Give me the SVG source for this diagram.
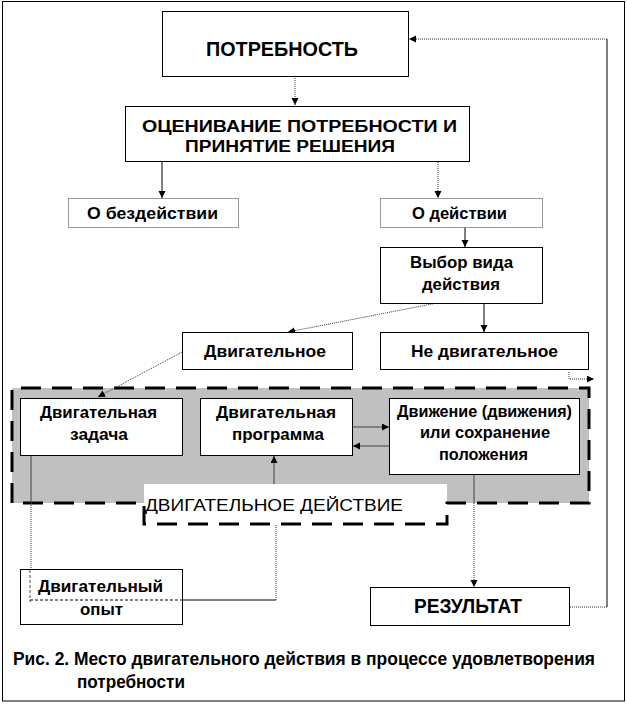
<svg xmlns="http://www.w3.org/2000/svg" width="627" height="704" viewBox="0 0 627 704">
<style>
  .box { fill: #ffffff; stroke: #000000; stroke-width: 1; }
  .dbox { fill: #ffffff; stroke: #333333; stroke-width: 1; stroke-dasharray: 1 1; }
  .t { font-family: "Liberation Sans", Arial, sans-serif; font-weight: bold; font-size: 16px; fill: #000000; }
  .m { font-size: 17px; }
  .big { font-size: 19.5px; }
  .reg { font-weight: normal; }
  .cap { font-size: 18px; }
  .solid { fill: none; stroke: #000000; stroke-width: 1; }
  .gray { fill: none; stroke: #404040; stroke-width: 1; }
  .dot { fill: none; stroke: #333333; stroke-width: 1; stroke-dasharray: 1 1; }
  .dash { fill: none; stroke: #000000; stroke-width: 1; stroke-dasharray: 3 2; }
  .gdash { fill: none; stroke: #888888; stroke-width: 1.5; stroke-dasharray: 3 2; }
  .frame { fill: none; stroke: #000000; stroke-width: 3; stroke-dasharray: 20 11; }
</style>
<defs>
  <marker id="ah" markerUnits="userSpaceOnUse" markerWidth="8" markerHeight="8" refX="7" refY="3.5" orient="auto">
    <path d="M0,0 L7,3.5 L0,7 z" fill="#000000"/>
  </marker>
</defs>
<rect x="0" y="0" width="627" height="704" fill="#ffffff"/>
<rect x="2.5" y="1.5" width="622" height="699.5" fill="none" stroke="#000000" stroke-width="1"/>

<g id="group-motor-action">
  <rect x="12" y="388" width="577" height="115" fill="#c0c0c0"/>
  <rect x="144" y="484" width="303" height="40" fill="#ffffff"/>
  <path class="frame" d="M12,503 L12,388 L589,388 L589,503 L447,503 L447,524 L144,524 L144,503 L12,503"/>
  <text class="t reg" x="145" y="511" font-size="21" textLength="258" lengthAdjust="spacingAndGlyphs">ДВИГАТЕЛЬНОЕ ДЕЙСТВИЕ</text>
</g>

<g id="connectors">
  <path class="dot" d="M295,76 L295,105" marker-end="url(#ah)"/>
  <path class="solid" d="M162,162 L162,198" marker-end="url(#ah)"/>
  <path class="dot" d="M438,162 L438,198" marker-end="url(#ah)"/>
  <path class="solid" d="M465,227 L465,247" marker-end="url(#ah)"/>
  <path class="solid" d="M484,303 L484,332" marker-end="url(#ah)"/>
  <path class="dot" d="M437,303 L288,332" marker-end="url(#ah)"/>
  <path class="dot" d="M182,352 L98,397" marker-end="url(#ah)"/>
  <path class="dot" d="M569,372 L569,379 L594,379" marker-end="url(#ah)"/>
  <path class="gray" d="M352,427 L389,427" marker-end="url(#ah)"/>
  <path class="gray" d="M389,446 L353,446" marker-end="url(#ah)"/>
  <path class="gray" d="M31,455 L31,503"/>
  <path class="dot" d="M31,503 L31,569"/>
  <path class="solid" d="M182,600 L276,600"/>
  <path class="dot" d="M276,600 L276,524"/>
  <path class="gray" d="M274,484 L274,456" marker-end="url(#ah)"/>
  <path class="gray" d="M474,475 L474,503"/>
  <path class="dot" d="M474,503 L474,587" marker-end="url(#ah)"/>
  <path class="dot" d="M570,607 L607,607"/>
  <path class="solid" d="M607,607 L607,39"/>
  <path class="dot" d="M607,39 L409,39" marker-end="url(#ah)"/>
</g>

<g id="node-need">
  <rect class="box" x="162.5" y="11.5" width="246" height="65"/>
  <text class="t big" x="206" y="56" textLength="152" lengthAdjust="spacingAndGlyphs">ПОТРЕБНОСТЬ</text>
</g>
<g id="node-evaluation">
  <rect class="box" x="125.5" y="106.5" width="344" height="55"/>
  <text class="t" font-size="20" x="142" y="132" textLength="315" lengthAdjust="spacingAndGlyphs">ОЦЕНИВАНИЕ ПОТРЕБНОСТИ И</text>
  <text class="t" font-size="20" x="185" y="152" textLength="210" lengthAdjust="spacingAndGlyphs">ПРИНЯТИЕ РЕШЕНИЯ</text>
</g>
<g id="node-inaction">
  <rect class="dbox" x="68.5" y="198.5" width="170" height="29"/>
  <text class="t" x="87" y="219" textLength="131" lengthAdjust="spacingAndGlyphs">О бездействии</text>
</g>
<g id="node-action">
  <rect class="dbox" x="380.5" y="198.5" width="162" height="29"/>
  <text class="t" x="412" y="219" textLength="95" lengthAdjust="spacingAndGlyphs">О действии</text>
</g>
<g id="node-choice">
  <rect class="box" x="380.5" y="247.5" width="162" height="56"/>
  <text class="t m" x="410" y="268" textLength="103" lengthAdjust="spacingAndGlyphs">Выбор вида</text>
  <text class="t m" x="422" y="290" textLength="78" lengthAdjust="spacingAndGlyphs">действия</text>
</g>
<g id="node-motor">
  <rect class="box" x="182.5" y="332.5" width="170" height="37"/>
  <text class="t m" x="204" y="357" textLength="122" lengthAdjust="spacingAndGlyphs">Двигательное</text>
</g>
<g id="node-nonmotor">
  <rect class="box" x="380.5" y="332.5" width="208" height="37"/>
  <text class="t m" x="411" y="357" textLength="147" lengthAdjust="spacingAndGlyphs">Не двигательное</text>
</g>
<g id="node-task">
  <rect class="box" x="20.5" y="398.5" width="162" height="57"/>
  <text class="t" x="40" y="418" textLength="117" lengthAdjust="spacingAndGlyphs">Двигательная</text>
  <text class="t" x="70" y="440" textLength="58" lengthAdjust="spacingAndGlyphs">задача</text>
</g>
<g id="node-program">
  <rect class="box" x="200.5" y="398.5" width="152" height="57"/>
  <text class="t" x="216" y="418" textLength="120" lengthAdjust="spacingAndGlyphs">Двигательная</text>
  <text class="t" x="232" y="440" textLength="92" lengthAdjust="spacingAndGlyphs">программа</text>
</g>
<g id="node-movement">
  <rect class="box" x="389.5" y="398.5" width="190" height="76"/>
  <text class="t" x="397" y="417" textLength="175" lengthAdjust="spacingAndGlyphs">Движение (движения)</text>
  <text class="t" x="420" y="438" textLength="130" lengthAdjust="spacingAndGlyphs">или сохранение</text>
  <text class="t" x="439" y="460" textLength="89" lengthAdjust="spacingAndGlyphs">положения</text>
</g>
<g id="node-experience">
  <rect class="box" x="20.5" y="569.5" width="162" height="55"/>
  <path class="gdash" d="M30,570 L30,602"/>
  <path class="dash" d="M30,600 L182,600"/>
  <text class="t" x="38" y="592" textLength="125" lengthAdjust="spacingAndGlyphs">Двигательный</text>
  <text class="t" x="80" y="615" textLength="43" lengthAdjust="spacingAndGlyphs">опыт</text>
</g>
<g id="node-result">
  <rect class="box" x="370.5" y="587.5" width="199" height="38"/>
  <text class="t big" x="414" y="613" textLength="108" lengthAdjust="spacingAndGlyphs">РЕЗУЛЬТАТ</text>
</g>

<g id="caption">
  <text class="t cap" x="13" y="665" textLength="582" lengthAdjust="spacingAndGlyphs">Рис. 2. Место двигательного действия в процессе удовлетворения</text>
  <text class="t cap" x="77" y="688" textLength="108" lengthAdjust="spacingAndGlyphs">потребности</text>
</g>
</svg>
